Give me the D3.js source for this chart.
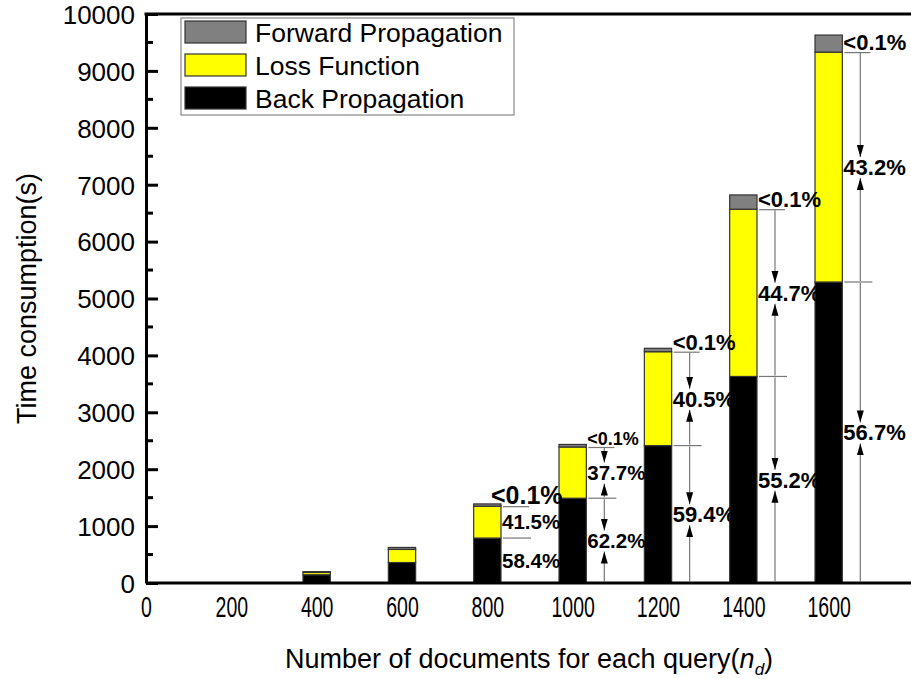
<!DOCTYPE html>
<html>
<head>
<meta charset="utf-8">
<script src="https://cdn.jsdelivr.net/npm/d3@7"></script>
<style>
  html, body { margin: 0; padding: 0; background: #fff; }
  svg { display: block; font-family: "Liberation Sans", Arial, sans-serif; }
</style>
</head>
<body>
<svg id="chart" width="911" height="679"></svg>
<script>
// Documents per query (x) and time spent in each training stage (seconds)
const docs = [400, 600, 800, 1000, 1200, 1400, 1600];
const backPropagation = [145, 360, 790, 1490, 2415, 3630, 5290];
const lossFunction = [40, 230, 560, 900, 1650, 2940, 4040];
const forwardPropagation = [15, 35, 40, 45, 60, 250, 300];

// Share annotations (percent of loss + back propagation time)
const annotatedDocs = [800, 1000, 1200, 1400, 1600];
const forwardShareText = ["<0.1%", "<0.1%", "<0.1%", "<0.1%", "<0.1%"];
const lossShare = [41.5, 37.7, 40.5, 44.7, 43.2];
const backShare = [58.4, 62.2, 59.4, 55.2, 56.7];

const xTicks = [0, 200, 400, 600, 800, 1000, 1200, 1400, 1600];
const yMajorTicks = [0, 1000, 2000, 3000, 4000, 5000, 6000, 7000, 8000, 9000, 10000];
const yMinorTicks = [500, 1500, 2500, 3500, 4500, 5500, 6500, 7500, 8500, 9500];

const seriesNames = ["Forward Propagation", "Loss Function", "Back Propagation"];
const seriesKeys = ["forward", "loss", "back"];
const colors = { forward: "#808080", loss: "#ffff00", back: "#000000" };

const FONT = "'Liberation Sans', Arial, sans-serif";
const svg = d3.select("#chart");
const x = d3.scaleLinear().domain([0, 1800]).range([146, 914]);
const y = d3.scaleLinear().domain([0, 10000]).range([583, 14]);
const barHalf = (x(64) - x(0)) / 2;

// Stack the three stages: back propagation at the bottom, forward on top
const rows = docs.map((d, i) => ({
  docs: d,
  back: backPropagation[i],
  loss: lossFunction[i],
  forward: forwardPropagation[i]
}));
const stack = d3.stack().keys(["back", "loss", "forward"]);
const layers = stack(rows);

const barG = svg.append("g");
layers.forEach(layer => {
  barG.selectAll(null)
    .data(layer)
    .enter().append("rect")
    .attr("x", d => x(d.data.docs) - barHalf)
    .attr("width", barHalf * 2)
    .attr("y", d => y(d[1]))
    .attr("height", d => Math.max(0, y(d[0]) - y(d[1])))
    .attr("fill", colors[layer.key])
    .attr("stroke", "#333")
    .attr("stroke-width", 1.2);
});

// Y axis with inward ticks
const yAxis = d3.axisLeft(y)
  .tickValues(yMajorTicks)
  .tickSizeInner(-12)
  .tickSizeOuter(0)
  .tickPadding(11)
  .tickFormat(d3.format("d"));
const yG = svg.append("g").attr("transform", `translate(${x(0)},0)`).call(yAxis);
yG.select(".domain").attr("stroke", "#000").attr("stroke-width", 3);
yG.selectAll(".tick line").attr("stroke", "#000").attr("stroke-width", 3);
yG.selectAll(".tick text")
  .attr("font-size", 26)
  .attr("fill", "#000")
  .attr("font-family", FONT)
  .attr("dy", "0.36em");

svg.append("g").selectAll("line")
  .data(yMinorTicks)
  .enter().append("line")
  .attr("x1", x(0)).attr("x2", x(0) + 7)
  .attr("y1", d => y(d)).attr("y2", d => y(d))
  .attr("stroke", "#000").attr("stroke-width", 3);

// X axis
const xAxis = d3.axisBottom(x)
  .tickValues(xTicks)
  .tickSize(0)
  .tickPadding(13)
  .tickFormat(d3.format("d"));
const xG = svg.append("g").attr("transform", `translate(0,${y(0)})`).call(xAxis);
xG.select(".domain").attr("stroke", "#000").attr("stroke-width", 3).attr("d", `M${x(0)},0H${x(1800)}`);
xG.selectAll(".tick text")
  .attr("font-size", 30)
  .attr("fill", "#000")
  .attr("font-family", FONT)
  .attr("dy", "0.71em")
  .attr("transform", "scale(0.65,1)");

// Top frame
svg.append("line")
  .attr("x1", x(0) - 1.5).attr("x2", x(1800))
  .attr("y1", y(10000)).attr("y2", y(10000))
  .attr("stroke", "#000").attr("stroke-width", 3);

// Axis titles
svg.append("text")
  .attr("transform", `translate(36,${y(5000)}) rotate(-90)`)
  .attr("text-anchor", "middle")
  .attr("font-size", 27)
  .text("Time consumption(s)");

const xTitle = svg.append("text")
  .attr("x", 529).attr("y", 668)
  .attr("text-anchor", "middle")
  .attr("font-size", 27);
xTitle.append("tspan").text("Number of documents for each query(");
xTitle.append("tspan").attr("font-style", "italic").text("n");
xTitle.append("tspan").attr("font-style", "italic").attr("font-size", 17).attr("dy", 7).text("d");
xTitle.append("tspan").attr("dy", -7).text(")");

// Legend
const legend = svg.append("g");
legend.append("rect")
  .attr("x", 181).attr("y", 18).attr("width", 333).attr("height", 97)
  .attr("fill", "#fff").attr("stroke", "#888").attr("stroke-width", 1.2);
seriesKeys.forEach((k, i) => {
  legend.append("rect")
    .attr("x", 185).attr("y", 21 + i * 33)
    .attr("width", 61).attr("height", 22)
    .attr("fill", colors[k]).attr("stroke", "#333").attr("stroke-width", 1.2);
  legend.append("text")
    .attr("x", 255).attr("y", 42 + i * 33)
    .attr("font-size", 26.5)
    .text(seriesNames[i]);
});

// Arrow heads
const defs = svg.append("defs");
defs.append("marker")
  .attr("id", "tip")
  .attr("viewBox", "0 0 12 14")
  .attr("refX", 12).attr("refY", 7)
  .attr("markerWidth", 12).attr("markerHeight", 14)
  .attr("markerUnits", "userSpaceOnUse")
  .attr("orient", "auto")
  .append("path")
  .attr("d", "M0,3.5L12,7L0,10.5Z")
  .attr("fill", "#000");

// Share annotations beside each large bar
const annG = svg.append("g");
const lineColor = "#777";
annotatedDocs.forEach((d, j) => {
  const i = docs.indexOf(d);
  const right = x(d) + barHalf;
  const back = backPropagation[i];
  const loss = lossFunction[i];
  const yLossTop = y(back + loss);
  const yBackTop = y(back);
  const y0 = y(0);
  const ax = right + 18;
  const bigFirst = d === 800;
  const smallFirst = d === 1000;
  const fsTop = bigFirst ? 25 : (smallFirst ? 18 : 22);
  const fs = smallFirst || bigFirst ? 20.5 : 22;

  // "<0.1%" with its underline at the forward/loss boundary
  annG.append("text")
    .attr("x", right + (bigFirst ? -10 : 1)).attr("y", yLossTop - 2)
    .attr("font-size", fsTop).attr("font-weight", "bold")
    .text(forwardShareText[j]);
  annG.append("line")
    .attr("x1", right + 2).attr("x2", right + 28)
    .attr("y1", yLossTop + 0.5).attr("y2", yLossTop + 0.5)
    .attr("stroke", lineColor).attr("stroke-width", 1.2);

  // boundary between loss and back propagation
  annG.append("line")
    .attr("x1", right + 2).attr("x2", right + 30)
    .attr("y1", yBackTop).attr("y2", yBackTop)
    .attr("stroke", lineColor).attr("stroke-width", 1.2);

  const segments = [
    { top: yLossTop, bottom: yBackTop, label: lossShare[j].toFixed(1) + "%" },
    { top: yBackTop, bottom: y0, label: backShare[j].toFixed(1) + "%" }
  ];
  segments.forEach(s => {
    const mid = (s.top + s.bottom) / 2;
    annG.append("text")
      .attr("x", right + 1).attr("y", mid + fs * 0.36)
      .attr("font-size", fs).attr("font-weight", "bold")
      .text(s.label);
    if (s.bottom - s.top > 48) {
      annG.append("line")
        .attr("x1", ax).attr("x2", ax)
        .attr("y1", s.top + 1).attr("y2", mid - 10)
        .attr("stroke", lineColor).attr("stroke-width", 1.2)
        .attr("marker-end", "url(#tip)");
      annG.append("line")
        .attr("x1", ax).attr("x2", ax)
        .attr("y1", s.bottom - 1).attr("y2", mid + 11)
        .attr("stroke", lineColor).attr("stroke-width", 1.2)
        .attr("marker-end", "url(#tip)");
    }
  });
});
</script>
</body>
</html>
